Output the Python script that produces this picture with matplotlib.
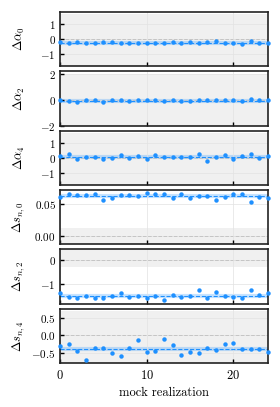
import numpy as np
import matplotlib
matplotlib.use("Agg")
import matplotlib.pyplot as plt

plt.rcParams['font.family'] = ['cmr10', 'DejaVu Serif']
plt.rcParams['mathtext.fontset'] = 'cm'
plt.rcParams['axes.formatter.use_mathtext'] = True
plt.rcParams['font.size'] = 8

realization = np.arange(25)

d_alpha0 = [-0.20, -0.26, -0.20, -0.22, -0.22, -0.20, -0.15, -0.26, -0.22, -0.22, -0.22, -0.26, -0.26,
            -0.20, -0.26, -0.15, -0.22, -0.18, -0.11, -0.26, -0.22, -0.29, -0.13, -0.22, -0.22]
d_alpha2 = [0.00, -0.10, -0.15, -0.05, -0.05, -0.18, -0.05, -0.05, -0.10, -0.05, -0.05, -0.05, -0.13,
            -0.05, -0.13, -0.08, -0.05, -0.05, -0.03, -0.03, -0.05, -0.13, 0.05, -0.03, 0.00]
d_alpha4 = [0.11, 0.31, -0.04, 0.07, 0.09, -0.09, 0.00, 0.18, 0.00, 0.13, -0.09, 0.22, 0.09,
            0.09, 0.07, 0.04, 0.31, -0.18, 0.09, 0.18, -0.07, 0.16, 0.27, -0.02, 0.13]
d_sn0 = [0.0600, 0.0647, 0.0632, 0.0632, 0.0647, 0.0568, 0.0589, 0.0642, 0.0637, 0.0626, 0.0663, 0.0658, 0.0647,
         0.0595, 0.0647, 0.0595, 0.0616, 0.0616, 0.0563, 0.0611, 0.0647, 0.0658, 0.0532, 0.0600, 0.0595]
d_sn2 = [-1.37, -1.51, -1.55, -1.49, -1.55, -1.57, -1.47, -1.37, -1.53, -1.48, -1.55, -1.47, -1.64,
         -1.44, -1.52, -1.47, -1.24, -1.55, -1.31, -1.49, -1.51, -1.57, -1.25, -1.43, -1.37]
d_sn4 = [-0.30, -0.23, -0.44, -0.68, -0.35, -0.34, -0.50, -0.57, -0.35, -0.14, -0.47, -0.42, -0.11,
         -0.28, -0.54, -0.47, -0.50, -0.36, -0.41, -0.23, -0.21, -0.37, -0.39, -0.37, -0.45]

labels = [r'$\Delta\alpha_0$', r'$\Delta\alpha_2$', r'$\Delta\alpha_4$',
          r'$\Delta s_{n,0}$', r'$\Delta s_{n,2}$', r'$\Delta s_{n,4}$']
series = [d_alpha0, d_alpha2, d_alpha4, d_sn0, d_sn2, d_sn4]
ylims = [(-1.8, 1.82), (-2.0, 2.18), (-1.85, 1.88), (-0.0124, 0.0715), (-1.8, 0.44), (-0.77, 0.75)]
bands = [(-3, 1.7), (-3, 2.0), (-3, 1.7), (-1, 0.0123), (-0.29, 1), (-1, 0.68)]
yticks = [[-1, 0, 1], [-2, 0, 2], [-1, 0, 1], [0.0, 0.05], [-1, 0], [-0.5, 0.0, 0.5]]
ytickfmt = ['%d', '%d', '%d', '%.2f', '%d', '%.1f']

fig, axes = plt.subplots(6, 1, figsize=(2.8, 4.07), dpi=100, sharex=True)
fig.subplots_adjust(left=0.214, right=0.957, top=0.9705, bottom=0.108, hspace=0.09)

for i, ax in enumerate(axes):
    vals = np.array(series[i])
    ax.axhspan(bands[i][0], bands[i][1], color='#f0f0f0', zorder=0, lw=0)
    ax.grid(True, color='#e2e2e2', lw=0.5, zorder=0.5)
    ax.axhline(0, color='gray', ls='--', lw=0.7, zorder=1)
    m = vals.mean()
    ax.axhline(m, color='dodgerblue', lw=3, alpha=0.25, zorder=1.5)
    ax.axhline(m, color='dodgerblue', ls='--', lw=0.8, zorder=2)
    ax.plot(realization, vals, 'o', color='dodgerblue', ms=3.2, mec='none', zorder=3, clip_on=False)
    ax.set_xlim(0, 24)
    ax.set_ylim(*ylims[i])
    ax.set_yticks(yticks[i])
    ax.set_yticklabels([('$' + ytickfmt[i] + '$') % t if t >= 0 else ('$-' + ytickfmt[i] + '$') % -t
                        for t in yticks[i]])
    ax.set_xticks([0, 10, 20])
    ax.tick_params(direction='in', length=3, width=1, pad=3, top=False, right=False)
    for s in ax.spines.values():
        s.set_linewidth(1.2)
        s.set_color('#222222')
    ax.set_ylabel(labels[i], fontsize=9)
    ax.yaxis.set_label_coords(-0.16, 0.5)

axes[-1].set_xticklabels(['$0$', '$10$', '$20$'])
axes[-1].tick_params(axis='x', pad=4, labelsize=9)
axes[-1].set_xlabel('mock realization', fontsize=9)

fig.savefig('out.png', dpi=100)
